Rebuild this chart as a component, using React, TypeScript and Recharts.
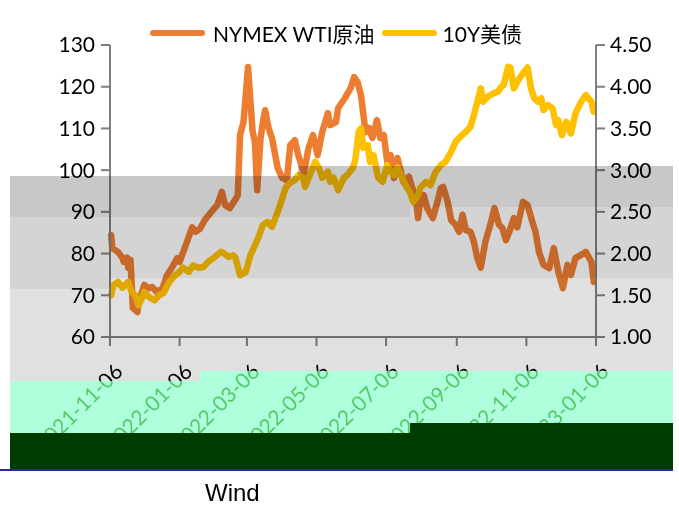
import React from 'react';
import { LineChart, Line, XAxis, YAxis } from 'recharts';

const FONT = "Lato, 'Noto Sans CJK SC', sans-serif";
const START = '2021-11-06';

const xTickLabels = ['2021-11-06', '2022-01-06', '2022-03-06', '2022-05-06', '2022-07-06', '2022-09-06', '2022-11-06', '2023-01-06'];
const leftTicks = [60, 70, 80, 90, 100, 110, 120, 130];
const rightTicks = [1.0, 1.5, 2.0, 2.5, 3.0, 3.5, 4.0, 4.5];

const wtiDates = [
  '2021-11-07', '2021-11-08', '2021-11-13', '2021-11-17', '2021-11-18', '2021-11-21', '2021-11-22', '2021-11-24', '2021-11-26', '2021-11-30',
  '2021-12-01', '2021-12-06', '2021-12-10', '2021-12-13', '2021-12-17', '2021-12-22', '2021-12-26', '2021-12-30', '2022-01-04', '2022-01-06',
  '2022-01-13', '2022-01-17', '2022-01-20', '2022-01-24', '2022-01-28', '2022-02-04', '2022-02-08', '2022-02-12', '2022-02-15', '2022-02-19',
  '2022-02-24', '2022-02-26', '2022-02-28', '2022-03-03', '2022-03-07', '2022-03-11', '2022-03-13', '2022-03-15', '2022-03-18', '2022-03-20',
  '2022-03-22', '2022-03-25', '2022-03-28', '2022-04-02', '2022-04-06', '2022-04-10', '2022-04-13', '2022-04-17', '2022-04-20', '2022-04-25',
  '2022-04-29', '2022-05-03', '2022-05-07', '2022-05-11', '2022-05-16', '2022-05-18', '2022-05-23', '2022-05-25', '2022-05-31', '2022-06-05',
  '2022-06-08', '2022-06-11', '2022-06-14', '2022-06-18', '2022-06-21', '2022-06-24', '2022-06-28', '2022-07-01', '2022-07-04', '2022-07-07',
  '2022-07-10', '2022-07-13', '2022-07-16', '2022-07-19', '2022-07-21', '2022-07-26', '2022-07-29', '2022-08-01', '2022-08-03', '2022-08-05',
  '2022-08-08', '2022-08-11', '2022-08-16', '2022-08-20', '2022-08-23', '2022-08-25', '2022-08-29', '2022-09-01', '2022-09-05', '2022-09-08',
  '2022-09-11', '2022-09-14', '2022-09-18', '2022-09-21', '2022-09-24', '2022-09-27', '2022-09-29', '2022-10-01', '2022-10-06', '2022-10-09',
  '2022-10-13', '2022-10-16', '2022-10-19', '2022-10-22', '2022-10-26', '2022-10-29', '2022-11-03', '2022-11-07', '2022-11-12', '2022-11-14',
  '2022-11-17', '2022-11-21', '2022-11-26', '2022-11-30', '2022-12-04', '2022-12-08', '2022-12-12', '2022-12-15', '2022-12-19', '2022-12-24',
  '2022-12-28', '2023-01-02', '2023-01-04',
];
const wtiValues = [
  84.4, 81.3, 80.4, 78.9, 78.0, 79.0, 76.6, 78.5, 67.0, 66.0,
  68.1, 72.5, 71.7, 72.0, 70.8, 71.7, 74.8, 76.5, 78.9, 78.0,
  83.2, 86.3, 85.2, 86.0, 88.0, 90.4, 91.6, 94.8, 91.6, 90.9,
  93.0, 94.0, 108.4, 111.5, 124.7, 109.2, 106.8, 95.2, 107.7, 111.5,
  114.4, 110.1, 107.7, 100.5, 98.1, 97.6, 106.0, 107.2, 103.6, 99.3,
  105.3, 108.4, 103.6, 109.1, 113.7, 110.8, 111.5, 114.9, 117.3, 119.7,
  122.3, 121.1, 118.0, 109.1, 110.1, 107.7, 112.0, 107.7, 108.4, 102.0,
  103.6, 98.1, 102.9, 99.6, 97.2, 98.4, 95.7, 93.3, 88.5, 92.4,
  94.0, 90.9, 88.5, 92.4, 95.7, 96.0, 92.4, 88.0, 86.9, 85.2,
  89.3, 85.6, 85.2, 82.8, 78.9, 76.6, 79.7, 82.8, 87.6, 90.9,
  86.9, 86.1, 83.2, 85.2, 88.5, 86.3, 92.4, 91.6, 86.9, 85.2,
  80.4, 77.3, 76.5, 81.3, 75.6, 71.7, 77.3, 74.9, 78.9, 79.7,
  80.4, 78.0, 73.2,
];

const ustDates = [
  '2021-11-07', '2021-11-09', '2021-11-13', '2021-11-17', '2021-11-22', '2021-11-25', '2021-11-28', '2021-12-01', '2021-12-04', '2021-12-06',
  '2021-12-10', '2021-12-15', '2021-12-19', '2021-12-23', '2021-12-28', '2022-01-02', '2022-01-05', '2022-01-09', '2022-01-14', '2022-01-18',
  '2022-01-22', '2022-01-27', '2022-01-31', '2022-02-06', '2022-02-11', '2022-02-13', '2022-02-18', '2022-02-22', '2022-02-24', '2022-02-28',
  '2022-03-05', '2022-03-09', '2022-03-13', '2022-03-16', '2022-03-20', '2022-03-24', '2022-03-28', '2022-04-02', '2022-04-04', '2022-04-09',
  '2022-04-13', '2022-04-17', '2022-04-20', '2022-04-24', '2022-04-26', '2022-05-01', '2022-05-05', '2022-05-08', '2022-05-11', '2022-05-16',
  '2022-05-18', '2022-05-21', '2022-05-25', '2022-05-30', '2022-06-02', '2022-06-07', '2022-06-09', '2022-06-12', '2022-06-14', '2022-06-16',
  '2022-06-20', '2022-06-22', '2022-06-25', '2022-06-29', '2022-07-03', '2022-07-07', '2022-07-10', '2022-07-13', '2022-07-16', '2022-07-19',
  '2022-07-23', '2022-07-27', '2022-07-30', '2022-08-03', '2022-08-05', '2022-08-10', '2022-08-14', '2022-08-18', '2022-08-23', '2022-08-27',
  '2022-09-01', '2022-09-05', '2022-09-09', '2022-09-14', '2022-09-18', '2022-09-21', '2022-09-24', '2022-09-27', '2022-09-29', '2022-10-03',
  '2022-10-08', '2022-10-12', '2022-10-15', '2022-10-17', '2022-10-21', '2022-10-23', '2022-10-26', '2022-10-30', '2022-11-04', '2022-11-07',
  '2022-11-10', '2022-11-13', '2022-11-16', '2022-11-19', '2022-11-21', '2022-11-25', '2022-11-29', '2022-12-02', '2022-12-04', '2022-12-07',
  '2022-12-11', '2022-12-15', '2022-12-19', '2022-12-24', '2022-12-28', '2023-01-02', '2023-01-04',
];
const ustValues = [
  1.50, 1.62, 1.66, 1.59, 1.66, 1.54, 1.50, 1.38, 1.47, 1.54,
  1.48, 1.44, 1.50, 1.53, 1.66, 1.74, 1.77, 1.83, 1.78, 1.86,
  1.83, 1.84, 1.90, 1.96, 2.02, 2.01, 1.96, 1.98, 1.95, 1.74,
  1.78, 1.98, 2.10, 2.19, 2.34, 2.38, 2.32, 2.50, 2.58, 2.79,
  2.85, 2.88, 2.94, 2.91, 2.80, 2.97, 3.10, 3.03, 2.91, 2.98,
  2.86, 2.91, 2.76, 2.91, 2.94, 3.03, 3.12, 3.46, 3.50, 3.27,
  3.30, 3.10, 3.18, 2.91, 2.86, 3.06, 2.98, 2.94, 3.03, 2.94,
  2.82, 2.73, 2.62, 2.70, 2.79, 2.86, 2.82, 2.97, 3.06, 3.10,
  3.22, 3.34, 3.40, 3.46, 3.52, 3.66, 3.82, 3.98, 3.82, 3.88,
  3.92, 3.94, 4.00, 4.02, 4.24, 4.23, 3.98, 4.08, 4.18, 4.23,
  3.98, 3.86, 3.82, 3.86, 3.72, 3.78, 3.74, 3.54, 3.60, 3.42,
  3.58, 3.44, 3.68, 3.82, 3.90, 3.82, 3.70,
];

const dayOf = (s: string) => (Date.parse(s) - Date.parse(START)) / 86400000;
const wtiData = wtiDates.map((d, i) => ({ t: dayOf(d), wti: wtiValues[i] }));
const ustData = ustDates.map((d, i) => ({ t: dayOf(d), ust: ustValues[i] }));
const xTicks = xTickLabels.map(dayOf);

const labelOf = (t: number) => xTickLabels[xTicks.indexOf(t)] ?? '';

const XTick = (props: any) => {
  const { x, y, payload } = props;
  const ax = x + 14, ay = y + 25;
  return (
    <text x={ax} y={ay} transform={`rotate(-45 ${ax} ${ay})`} textAnchor="end"
      fontSize={21} fontFamily={FONT} fill="#000">{labelOf(payload.value)}</text>
  );
};

// artefact bands over the picture: [left, top, right, bottom]
const box = (l: number, t: number, r: number, b: number, extra: React.CSSProperties) => (
  <div style={{ position: 'absolute', left: l, top: t, width: r - l, height: b - t, ...extra }} />
);
const mult = (c: string) => ({ background: c, mixBlendMode: 'multiply' as const });
const scr = (c: string) => ({ background: c, mixBlendMode: 'screen' as const });

export default function App() {
  const axisLine = { stroke: '#7f7f7f', strokeWidth: 2 };
  const tickStyle = { fontSize: 21, fontFamily: FONT, fill: '#000' };
  return (
    <div style={{ position: 'fixed', left: 0, top: 0, width: 679, height: 511, background: '#fff', overflow: 'hidden', isolation: 'isolate', fontFamily: FONT }}>
      <LineChart width={679} height={511} margin={{ top: 45, right: 23, bottom: 114, left: 50 }}>
        <XAxis dataKey="t" type="number" domain={[0, 426]} ticks={xTicks} interval={0}
          axisLine={axisLine} tickLine={axisLine} tickSize={9} height={60} tick={<XTick />} />
        <YAxis yAxisId="l" domain={[60, 130]} ticks={leftTicks} width={60} interval={0}
          axisLine={axisLine} tickLine={axisLine} tickSize={9} tickMargin={6} tick={tickStyle} />
        <YAxis yAxisId="r" orientation="right" domain={[1, 4.5]} ticks={rightTicks} width={60} interval={0}
          axisLine={axisLine} tickLine={axisLine} tickSize={9} tickMargin={5} tick={tickStyle}
          tickFormatter={(v: number) => v.toFixed(2)} />
        <Line yAxisId="l" data={wtiData} dataKey="wti" type="linear" stroke="#ED7D31" strokeWidth={6.5}
          dot={false} isAnimationActive={false} strokeLinejoin="round" strokeLinecap="round" />
        <Line yAxisId="r" data={ustData} dataKey="ust" type="linear" stroke="#FFC000" strokeWidth={6.5}
          dot={false} isAnimationActive={false} strokeLinejoin="round" strokeLinecap="round" />
      </LineChart>

      <div style={{ position: 'absolute', left: 150, top: 20, height: 26, display: 'flex', alignItems: 'center', fontSize: 21, color: '#000', whiteSpace: 'nowrap' }}>
        <span style={{ width: 55, height: 6, background: '#ED7D31', borderRadius: 3, marginRight: 8 }} />
        <span>NYMEX WTI原油</span>
        <span style={{ width: 55, height: 6, background: '#FFC000', borderRadius: 3, marginLeft: 7, marginRight: 6 }} />
        <span>10Y美债</span>
      </div>

      {box(10, 176, 298, 217, mult('#c8c8c8'))}
      {box(298, 166, 410, 217, mult('#c8c8c8'))}
      {box(410, 166, 673, 207, mult('#c8c8c8'))}
      {box(10, 217, 110, 289, mult('#d4d4d4'))}
      {box(110, 217, 410, 278, mult('#d4d4d4'))}
      {box(410, 207, 673, 278, mult('#d4d4d4'))}
      {box(10, 289, 110, 381, mult('#e0e0e0'))}
      {box(110, 278, 200, 381, mult('#e0e0e0'))}
      {box(200, 278, 673, 371, mult('#e0e0e0'))}
      {box(10, 381, 200, 433, mult('#89ffc5'))}
      {box(200, 371, 410, 433, mult('#89ffc5'))}
      {box(410, 371, 673, 423, mult('#89ffc5'))}
      {box(10, 381, 200, 433, scr('#50c864'))}
      {box(200, 371, 410, 433, scr('#50c864'))}
      {box(410, 371, 673, 423, scr('#50c864'))}
      {box(10, 433, 410, 470, { background: '#003c00' })}
      {box(410, 423, 673, 470, { background: '#003c00' })}
      {box(0, 469, 673, 471, { background: '#2a2aa0' })}

      <div style={{ position: 'absolute', left: 205, top: 479, fontSize: 24, fontFamily: "'Liberation Sans Narrow', 'Liberation Sans', sans-serif", color: '#000' }}>Wind</div>
    </div>
  );
}
